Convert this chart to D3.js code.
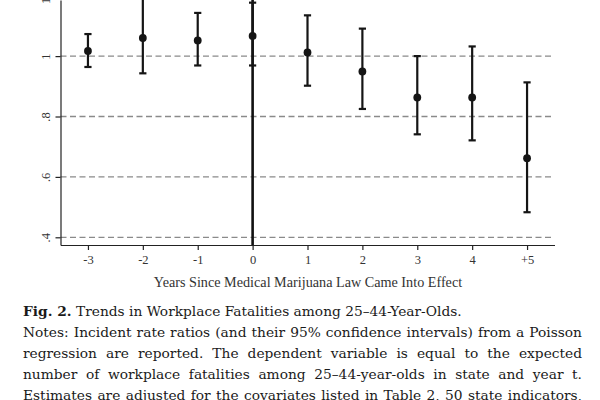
<!DOCTYPE html>
<html>
<head>
<meta charset="utf-8">
<script src="https://cdn.jsdelivr.net/npm/d3@7/dist/d3.min.js"></script>
<style>
  html, body { margin: 0; padding: 0; background: #fff; }
  svg { display: block; }
</style>
</head>
<body>
<svg id="chart" width="600" height="400"></svg>
<script>
// ---- data ----
const years = [-3, -2, -1, 0, 1, 2, 3, 4, 5];
const yearLabels = ["-3", "-2", "-1", "0", "1", "2", "3", "4", "+5"];
const irr   = [1.017, 1.060, 1.052, 1.067, 1.012, 0.949, 0.863, 0.863, 0.662];
const lower = [0.964, 0.943, 0.969, 0.969, 0.902, 0.825, 0.741, 0.721, 0.483];
const upper = [1.073, 1.190, 1.143, 1.177, 1.135, 1.091, 1.000, 1.032, 0.913];
const yTicks = [0.4, 0.6, 0.8, 1.0, 1.2];
const yTickLabels = [".4", ".6", ".8", "1", "1.2"];
const xTitle = "Years Since Medical Marijuana Law Came Into Effect";
const captionBold = "Fig. 2.";
const captionTitle = " Trends in Workplace Fatalities among 25\u201344-Year-Olds.";
const notesLines = [
  "Notes: Incident rate ratios (and their 95% confidence intervals) from a Poisson",
  "regression are reported. The dependent variable is equal to the expected",
  "number of workplace fatalities among 25\u201344-year-olds in state and year t.",
  "Estimates are adjusted for the covariates listed in Table 2, 50 state indicators,"
];

const svg = d3.select("#chart");
const axisFont = "'Liberation Serif', 'Times New Roman', serif";
const capFont = "'DejaVu Serif', serif";

const x = d3.scaleLinear().domain([-3.5, 5.5]).range([60.5, 554.5]);
const y = d3.scaleLinear().domain([0.3745, 1.1858]).range([245, 0]);

// gridlines
svg.append("g").selectAll("line").data(yTicks).join("line")
  .attr("x1", x(-3.5)).attr("x2", x(5.5))
  .attr("y1", d => y(d)).attr("y2", d => y(d))
  .attr("stroke", "#8a8a8a").attr("stroke-width", 1.3)
  .attr("stroke-dasharray", "6,3.5");

// axes
const xAxis = d3.axisBottom(x).tickValues(years)
  .tickFormat((d, i) => yearLabels[i]).tickSize(5).tickSizeOuter(0).tickPadding(5);
const gx = svg.append("g").attr("transform", "translate(0,245)").call(xAxis);
gx.selectAll("text").attr("font-family", axisFont).attr("font-size", 12.5).attr("fill", "#333");
gx.selectAll("line, path").attr("stroke", "#222").attr("stroke-width", 1.2);

const yAxis = d3.axisLeft(y).tickValues(yTicks)
  .tickFormat((d, i) => yTickLabels[i]).tickSize(5).tickSizeOuter(0);
const gy = svg.append("g").attr("transform", "translate(60.5,0)").call(yAxis);
gy.selectAll("line, path").attr("stroke", "#222").attr("stroke-width", 1.2);
gy.selectAll("text")
  .attr("font-family", axisFont).attr("font-size", 12.5).attr("fill", "#333")
  .attr("text-anchor", "middle").attr("dy", null)
  .attr("x", null)
  .attr("transform", "translate(-15,0) rotate(-90)")
  .attr("dominant-baseline", "central");

// x title
svg.append("text")
  .attr("x", 308).attr("y", 286.5)
  .attr("text-anchor", "middle")
  .attr("font-family", axisFont).attr("font-size", 14.2).attr("fill", "#333")
  .text(xTitle);

// vertical reference line at 0
svg.append("line")
  .attr("x1", x(0)).attr("x2", x(0))
  .attr("y1", y(y.domain()[0])).attr("y2", y(y.domain()[1]))
  .attr("stroke", "#111").attr("stroke-width", 2.6);

// error bars
const data = years.map((d, i) => ({ yr: d, v: irr[i], lo: lower[i], hi: upper[i] }));
const gE = svg.append("g").attr("stroke", "#151515").attr("stroke-width", 2.2);
gE.selectAll("line.bar").data(data).join("line").attr("class", "bar")
  .attr("x1", d => x(d.yr)).attr("x2", d => x(d.yr))
  .attr("y1", d => y(d.lo)).attr("y2", d => y(d.hi));
const capW = 3.6;
gE.selectAll("line.capHi").data(data).join("line").attr("class", "capHi")
  .attr("x1", d => x(d.yr) - capW).attr("x2", d => x(d.yr) + capW)
  .attr("y1", d => y(d.hi)).attr("y2", d => y(d.hi));
gE.selectAll("line.capLo").data(data).join("line").attr("class", "capLo")
  .attr("x1", d => x(d.yr) - capW).attr("x2", d => x(d.yr) + capW)
  .attr("y1", d => y(d.lo)).attr("y2", d => y(d.lo));
svg.append("g").selectAll("circle").data(data).join("circle")
  .attr("cx", d => x(d.yr)).attr("cy", d => y(d.v)).attr("r", 3.9)
  .attr("fill", "#151515");

// caption
const left = 23, right = 582;
let capSize = 14;
const title = svg.append("text").attr("x", left).attr("y", 316)
  .attr("font-family", capFont).attr("font-size", capSize).attr("fill", "#1a1a1a");
title.append("tspan").attr("font-weight", "bold").text(captionBold);
title.append("tspan").text(captionTitle);
const tw = title.node().getComputedTextLength();
capSize = capSize * 439 / tw;
title.attr("font-size", capSize);

const lineY = [337, 358, 379, 400];
notesLines.forEach((line, li) => {
  const words = line.split(" ");
  const t = svg.append("text").attr("y", lineY[li])
    .attr("font-family", capFont).attr("font-size", capSize).attr("fill", "#1a1a1a");
  const spans = words.map(w => t.append("tspan").attr("x", left).text(w));
  const widths = spans.map(s => s.node().getComputedTextLength());
  const total = widths.reduce((a, b) => a + b, 0);
  const gap = (right - left - total) / (words.length - 1);
  let cx = left;
  spans.forEach((s, i) => { s.attr("x", cx); cx += widths[i] + gap; });
});
</script>
</body>
</html>
